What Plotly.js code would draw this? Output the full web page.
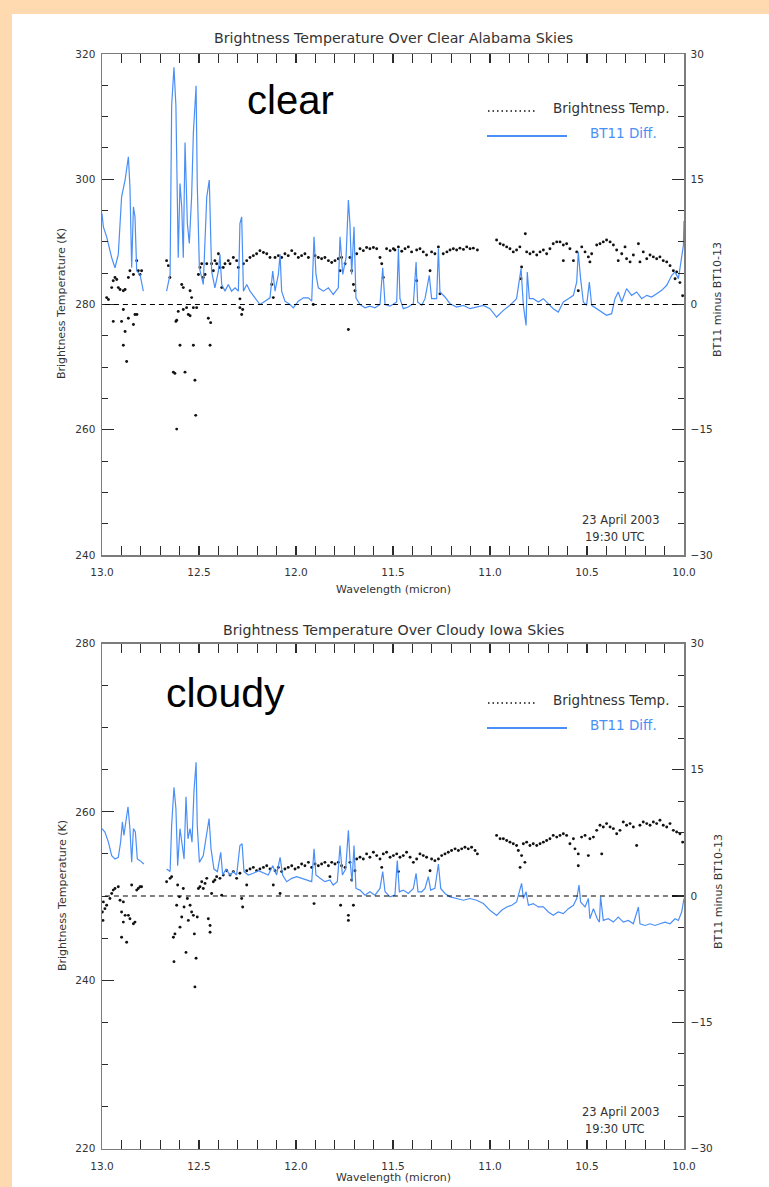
<!DOCTYPE html>
<html>
<head>
<meta charset="utf-8">
<script src="https://cdn.plot.ly/plotly-3.0.1.min.js"></script>
<style>
html,body{margin:0;padding:0;background:#FFDAB0;}
#chart{width:769px;height:1187px;}
</style>
</head>
<body>
<div id="chart"></div>
<script>
// ---------------- DATA ----------------
// Panel 1: clear Alabama skies
const clearBtWl = [
12.976,12.967,12.950,12.942,12.942,12.933,12.924,12.916,12.907,12.899,
12.890,12.890,12.890,12.881,12.881,12.873,12.864,12.864,12.856,12.838,
12.838,12.830,12.821,12.820,12.813,12.804,12.796,12.667,12.658,12.650,
12.632,12.624,12.619,12.615,12.615,12.607,12.598,12.589,12.581,12.581,
12.572,12.564,12.555,12.546,12.546,12.538,12.529,12.529,12.521,12.517,
12.512,12.503,12.495,12.486,12.478,12.469,12.460,12.452,12.443,12.440,
12.435,12.426,12.418,12.409,12.400,12.392,12.383,12.375,12.366,12.349,
12.340,12.323,12.306,12.297,12.289,12.289,12.280,12.275,12.271,12.254,
12.237,12.220,12.203,12.186,12.168,12.151,12.134,12.125,12.117,12.108,
12.091,12.074,12.057,12.040,12.022,12.005,11.988,11.971,11.954,11.936,
11.911,11.902,11.885,11.868,11.851,11.833,11.816,11.799,11.782,11.773,
11.765,11.747,11.730,11.722,11.713,11.704,11.696,11.687,11.670,11.653,
11.636,11.619,11.601,11.584,11.567,11.558,11.550,11.533,11.515,11.498,
11.490,11.472,11.455,11.438,11.421,11.404,11.378,11.378,11.361,11.344,
11.327,11.309,11.301,11.284,11.266,11.258,11.241,11.222,11.206,11.189,
11.172,11.155,11.137,11.120,11.103,11.086,11.065,10.966,10.948,10.931,
10.914,10.897,10.880,10.863,10.846,10.840,10.837,10.818,10.811,10.794,
10.777,10.759,10.742,10.725,10.708,10.691,10.674,10.656,10.639,10.622,
10.622,10.605,10.588,10.570,10.553,10.545,10.527,10.510,10.493,10.485,
10.476,10.450,10.433,10.416,10.399,10.381,10.364,10.347,10.339,10.321,
10.304,10.296,10.278,10.261,10.235,10.227,10.210,10.192,10.175,10.158,
10.141,10.124,10.107,10.089,10.072,10.055,10.046,10.038,10.021,10.007];
const clearBt = [
281.1,280.8,282.7,283.8,277.3,284.3,284.0,282.7,282.4,277.3,
282.2,279.2,273.5,282.4,275.7,270.9,284.3,277.8,285.4,284.8,
276.8,278.4,287.0,278.4,285.4,284.8,285.4,287.0,286.2,284.3,
269.2,269.0,277.3,260.1,277.5,278.9,273.5,283.2,282.7,279.2,
269.2,279.5,278.4,282.2,278.2,281.1,273.5,279.5,267.9,262.3,
279.5,284.8,285.9,286.5,284.3,284.8,286.5,277.8,273.5,277.1,
286.5,285.4,287.0,286.5,288.1,285.9,282.7,285.9,286.5,287.0,
286.5,287.5,287.0,285.9,279.5,280.9,278.4,279.2,286.5,287.0,
287.5,287.8,288.1,288.6,288.3,288.1,287.5,283.2,281.1,287.5,
287.8,287.5,288.1,287.8,288.6,288.1,287.5,287.8,288.1,287.5,
280.0,287.8,287.5,287.3,287.5,287.0,286.7,287.0,287.3,285.4,
287.5,286.5,276.0,287.5,285.4,283.2,282.2,288.1,288.9,288.6,
289.1,288.9,289.1,288.9,287.5,286.5,284.3,288.9,288.6,288.9,
288.7,289.2,288.5,288.9,289.2,288.4,288.7,283.8,288.9,288.4,
287.9,285.4,288.4,288.1,289.2,281.7,288.1,288.4,288.7,288.9,
288.7,289.0,288.8,289.2,288.9,289.0,288.7,290.3,289.7,289.5,
289.2,288.9,288.4,288.7,289.2,284.1,286.0,291.3,288.4,288.1,
288.4,287.9,288.4,288.7,288.1,288.9,289.7,290.0,290.0,289.5,
287.0,289.7,288.9,287.0,288.4,282.2,289.2,288.4,287.6,286.8,
288.1,289.5,289.7,290.0,290.3,290.0,289.5,288.7,287.0,288.1,
289.2,287.3,286.8,287.9,289.7,286.8,288.4,287.3,287.9,287.6,
287.3,287.6,287.0,286.8,286.2,285.4,284.1,285.2,283.5,281.4];
const clearDiffWl = [
13.000,12.993,12.976,12.950,12.933,12.916,12.899,12.881,12.864,12.856,
12.847,12.838,12.830,12.821,12.804,12.787,12.727,12.667,12.649,12.641,
12.629,12.619,12.607,12.598,12.589,12.581,12.572,12.560,12.550,12.538,
12.529,12.515,12.509,12.498,12.478,12.460,12.447,12.435,12.418,12.400,
12.392,12.383,12.366,12.349,12.332,12.314,12.297,12.289,12.280,12.271,
12.254,12.237,12.211,12.186,12.160,12.134,12.120,12.108,12.091,12.082,
12.074,12.057,12.031,12.014,11.988,11.962,11.936,11.919,11.907,11.897,
11.885,11.859,11.833,11.808,11.782,11.773,11.759,11.742,11.730,11.722,
11.713,11.701,11.691,11.670,11.644,11.619,11.593,11.567,11.553,11.541,
11.515,11.481,11.472,11.464,11.447,11.421,11.395,11.381,11.373,11.352,
11.335,11.313,11.301,11.275,11.266,11.258,11.232,11.206,11.172,11.137,
11.103,11.069,11.034,11.000,10.966,10.931,10.897,10.863,10.840,10.828,
10.814,10.808,10.797,10.777,10.751,10.725,10.699,10.674,10.648,10.622,
10.596,10.570,10.553,10.545,10.533,10.519,10.502,10.488,10.476,10.450,
10.424,10.399,10.373,10.356,10.339,10.321,10.296,10.270,10.244,10.218,
10.192,10.167,10.141,10.115,10.089,10.063,10.046,10.029,10.021,10.012,
10.003,10.000];
const clearDiff = [
10.9,9.3,8.1,5.6,4.4,6.0,12.9,14.9,17.7,14.1,
4.4,11.7,10.5,4.0,3.6,1.6,null,1.6,3.6,23.8,
28.4,23.8,5.6,14.5,11.7,5.6,19.4,9.7,7.3,12.9,
20.6,26.2,14.5,4.4,2.4,12.9,14.9,4.0,2.0,4.0,
6.0,2.4,1.6,2.4,1.6,2.0,1.6,9.7,10.5,1.6,
2.4,1.6,0.8,0.0,0.4,0.8,4.0,1.6,3.6,6.0,
1.6,0.4,0.0,-0.4,0.4,0.8,0.8,0.4,8.1,3.6,
2.0,1.6,2.0,1.2,2.0,8.1,3.6,5.6,12.5,9.7,
3.6,9.3,0.8,0.0,-0.4,-0.2,-0.4,0.0,4.4,0.0,
-0.2,0.3,6.7,0.7,-0.5,-0.3,0.1,5.1,0.3,-0.1,
0.7,3.5,0.7,0.7,6.7,1.5,0.9,0.1,-0.3,-0.1,
-0.5,-0.3,-0.1,-0.5,-1.5,-0.7,-0.1,0.7,4.3,-0.1,
-2.5,3.9,0.7,0.7,0.3,0.7,0.1,-0.5,-0.9,0.3,
0.7,1.1,2.7,6.3,3.1,0.3,-0.1,2.7,-0.1,-0.5,
-0.9,-1.3,-1.1,0.7,1.5,0.3,1.9,1.1,1.5,0.7,
1.1,0.9,1.3,1.7,2.3,3.5,3.9,3.1,4.3,5.9,
7.1,10.0];

// Panel 2: cloudy Iowa skies
const cloudyBtWl = [
12.995,12.998,12.993,12.985,12.976,12.959,12.950,12.942,12.933,12.916,
12.907,12.899,12.899,12.890,12.890,12.881,12.873,12.864,12.856,12.847,
12.838,12.830,12.821,12.813,12.804,12.796,12.667,12.649,12.641,12.632,
12.629,12.624,12.615,12.610,12.601,12.598,12.589,12.581,12.577,12.567,
12.560,12.555,12.546,12.538,12.529,12.524,12.521,12.515,12.509,12.503,
12.495,12.486,12.478,12.469,12.460,12.452,12.443,12.443,12.435,12.426,
12.418,12.409,12.392,12.383,12.375,12.357,12.340,12.323,12.306,12.289,
12.280,12.275,12.254,12.254,12.237,12.220,12.203,12.186,12.168,12.151,
12.134,12.117,12.108,12.091,12.082,12.074,12.057,12.040,12.022,12.005,
11.988,11.971,11.954,11.936,11.919,11.907,11.902,11.885,11.868,11.851,
11.833,11.825,11.816,11.799,11.782,11.770,11.765,11.747,11.730,11.730,
11.722,11.713,11.704,11.696,11.687,11.670,11.653,11.636,11.619,11.601,
11.584,11.567,11.558,11.550,11.533,11.515,11.498,11.481,11.472,11.464,
11.447,11.430,11.412,11.395,11.378,11.361,11.344,11.327,11.309,11.301,
11.284,11.266,11.249,11.232,11.215,11.198,11.180,11.163,11.146,11.129,
11.112,11.095,11.077,11.065,10.966,10.948,10.931,10.914,10.897,10.880,
10.863,10.854,10.845,10.837,10.828,10.820,10.811,10.794,10.777,10.759,
10.742,10.725,10.708,10.691,10.674,10.656,10.639,10.622,10.605,10.588,
10.570,10.562,10.545,10.545,10.528,10.510,10.493,10.485,10.467,10.450,
10.433,10.424,10.416,10.399,10.381,10.364,10.347,10.330,10.313,10.296,
10.278,10.261,10.244,10.227,10.210,10.192,10.175,10.158,10.141,10.124,
10.107,10.089,10.072,10.055,10.038,10.021,10.007];
const cloudyBt = [
247.1,248.1,249.3,248.5,248.9,249.7,250.3,250.7,250.9,251.1,
249.5,248.1,245.1,249.3,246.9,247.7,244.5,247.7,247.3,251.3,
246.7,246.9,250.7,250.9,251.1,251.1,251.7,252.1,252.3,245.1,
242.2,245.5,248.9,251.3,249.9,246.3,247.5,250.9,248.7,243.3,
249.7,247.1,248.9,248.1,247.7,245.5,239.2,242.6,247.5,250.9,
251.1,251.7,250.9,251.5,252.1,247.3,246.5,245.7,250.3,251.7,
251.9,252.3,252.1,250.1,252.5,253.0,252.5,252.9,252.1,252.7,
249.7,248.7,253.0,251.3,253.2,253.4,253.0,253.2,253.4,253.6,
253.2,251.3,253.0,253.4,250.3,252.9,253.2,253.4,253.6,253.2,
253.4,253.8,253.6,254.0,253.4,249.1,253.8,253.6,253.8,254.0,
253.6,252.3,254.0,253.8,254.0,248.9,253.6,253.4,247.7,247.1,
254.0,251.9,248.9,253.0,254.4,254.6,254.4,255.0,254.6,255.2,
254.8,254.4,253.4,255.0,255.2,254.6,254.8,255.0,252.9,254.6,
254.8,255.2,254.6,254.0,254.4,255.0,254.8,254.6,253.0,254.4,
254.2,254.4,254.8,255.0,255.2,255.4,255.6,255.4,255.6,255.8,
255.6,255.8,255.4,255.0,257.2,256.8,256.8,256.6,256.4,256.2,
256.0,255.4,253.4,254.8,256.2,254.0,256.4,256.0,256.2,256.0,
256.2,256.4,256.6,256.8,257.2,257.0,257.2,257.4,257.2,256.2,
256.8,255.6,255.0,253.6,257.0,257.2,254.8,256.8,257.0,257.8,
258.4,255.0,258.2,258.6,258.2,258.0,257.4,257.8,258.8,258.4,
258.6,258.2,256.0,258.4,258.8,258.6,258.4,258.8,258.6,259.0,
258.4,258.2,258.6,257.8,257.6,257.4,256.4];
const cloudyDiffWl = [
13.000,12.985,12.967,12.950,12.933,12.916,12.904,12.895,12.887,12.876,
12.866,12.856,12.847,12.838,12.828,12.818,12.804,12.784,12.727,12.667,
12.649,12.641,12.629,12.619,12.610,12.598,12.588,12.577,12.567,12.557,
12.546,12.536,12.526,12.515,12.509,12.498,12.478,12.460,12.448,12.438,
12.423,12.405,12.388,12.378,12.361,12.340,12.323,12.306,12.289,12.278,
12.268,12.246,12.220,12.194,12.168,12.143,12.120,12.100,12.082,12.069,
12.048,12.022,11.997,11.971,11.945,11.919,11.907,11.897,11.876,11.851,
11.825,11.808,11.787,11.773,11.761,11.744,11.730,11.722,11.711,11.701,
11.691,11.670,11.644,11.619,11.593,11.567,11.553,11.541,11.515,11.490,
11.478,11.467,11.447,11.421,11.395,11.381,11.371,11.352,11.335,11.318,
11.306,11.284,11.266,11.254,11.232,11.206,11.172,11.137,11.103,11.069,
11.034,11.000,10.966,10.940,10.914,10.888,10.863,10.837,10.828,10.814,
10.802,10.777,10.751,10.725,10.699,10.674,10.648,10.622,10.596,10.570,
10.553,10.541,10.533,10.510,10.493,10.485,10.467,10.447,10.436,10.430,
10.416,10.390,10.364,10.339,10.313,10.287,10.261,10.235,10.227,10.201,
10.175,10.150,10.124,10.098,10.072,10.046,10.029,10.012,10.000];
const cloudyDiff = [
8.0,7.6,6.4,4.8,4.4,4.6,6.4,8.8,7.2,9.2,
10.6,8.0,4.0,8.0,7.6,4.4,4.2,3.8,null,3.2,
2.9,8.4,12.9,10.4,3.6,8.0,6.4,4.4,11.8,6.8,
8.0,6.4,12.4,15.9,8.4,4.0,4.8,7.2,9.2,5.6,
3.2,2.9,5.2,2.5,3.2,2.5,2.9,2.5,6.0,6.2,
2.9,2.5,2.7,3.0,2.7,2.5,3.6,2.5,4.6,2.5,
1.7,2.1,2.3,2.1,1.9,1.7,5.6,2.5,2.1,1.7,
1.9,1.3,1.7,6.0,2.5,3.2,7.8,4.4,1.7,6.0,
0.9,0.7,0.1,0.5,0.1,0.9,2.9,0.5,-0.1,0.1,
4.2,0.5,0.7,0.3,0.9,2.7,0.5,0.5,0.9,2.3,
0.7,0.9,3.8,0.9,0.3,-0.1,-0.3,-0.5,-0.3,-0.5,
-0.9,-1.7,-2.3,-1.7,-1.3,-1.1,-0.7,1.5,-0.3,0.5,
-1.1,-0.9,-1.3,-1.3,-1.9,-2.3,-1.9,-2.1,-1.5,-1.1,
-0.3,1.3,-0.7,-1.3,-0.3,-2.7,-1.5,-2.7,-3.1,-0.1,
-2.9,-2.7,-3.1,-2.5,-3.1,-2.9,-3.3,-1.3,-3.3,-3.5,
-3.3,-3.5,-3.3,-3.1,-3.3,-2.7,-2.9,-1.9,-0.3];

// axis settings / labels
const wlRange = [13.0, 10.0];
const clearTempRange = [240, 320];
const cloudyTempRange = [220, 280];
const diffRange = [-30, 30];
const clearRef = 280;
const cloudyRef = 250;
const titles = ['Brightness Temperature Over Clear Alabama Skies', 'Brightness Temperature Over Cloudy Iowa Skies'];
const panelTags = ['clear', 'cloudy'];
const legendNames = ['Brightness Temp.', 'BT11 Diff.'];
const dateLines = ['23 April 2003', '19:30 UTC'];

// ---------------- LAYOUT ----------------
const W = 769, H = 1187;
const px = v => v / W;
const py = v => 1 - v / H;
const FONT = 'DejaVu Sans, Verdana, sans-serif';
const AXC = '#7c7c7c', TKC = '#2b2b2b', TXC = '#333333';
const BLUE = '#4a8ff7';

function xAxis(anchor) {
  return {
    domain: [px(102), px(684)], anchor: anchor, range: wlRange,
    tick0: 10, dtick: 0.5, tickformat: '.1f',
    ticks: 'inside', ticklen: 9, tickwidth: 1.3, tickcolor: TKC,
    showline: true, linecolor: AXC, linewidth: 1.5, mirror: 'allticks',
    showgrid: false, zeroline: false, ticklabelstandoff: 7,
    tickfont: {family: FONT, size: 10.5, color: TXC},
    minor: {tick0: 10, dtick: 0.1, ticks: 'inside', ticklen: 5, tickwidth: 1, tickcolor: TKC, showgrid: false}
  };
}
function yLeft(anchor, dom, range) {
  return {
    domain: dom, anchor: anchor, range: range, tick0: 0, dtick: 20,
    ticks: 'inside', ticklen: 12, tickwidth: 1.3, tickcolor: TKC,
    showline: true, linecolor: AXC, linewidth: 1.5, mirror: false,
    showgrid: false, zeroline: false, ticklabelstandoff: 3,
    tickfont: {family: FONT, size: 10.5, color: TXC},
    minor: {tick0: 0, dtick: 5, ticks: 'inside', ticklen: 6, tickwidth: 1, tickcolor: TKC, showgrid: false}
  };
}
function yRight(anchor, over) {
  return {
    overlaying: over, side: 'right', anchor: anchor, range: diffRange, tick0: 0, dtick: 15,
    ticks: 'inside', ticklen: 12, tickwidth: 1.3, tickcolor: TKC,
    showline: true, linecolor: AXC, linewidth: 1.5,
    showgrid: false, zeroline: false, ticklabelstandoff: 3,
    tickfont: {family: FONT, size: 10.5, color: TXC},
    minor: {tick0: 0, dtick: 3.75, ticks: 'inside', ticklen: 6, tickwidth: 1, tickcolor: TKC, showgrid: false}
  };
}

const traces = [
  {x: clearBtWl, y: clearBt, xaxis: 'x', yaxis: 'y', type: 'scatter', mode: 'markers',
   marker: {size: 2.9, color: '#111'}, hoverinfo: 'skip'},
  {x: clearDiffWl, y: clearDiff, xaxis: 'x', yaxis: 'y2', type: 'scatter', mode: 'lines',
   line: {color: BLUE, width: 1.2}, connectgaps: false, hoverinfo: 'skip'},
  {x: cloudyBtWl, y: cloudyBt, xaxis: 'x2', yaxis: 'y3', type: 'scatter', mode: 'markers',
   marker: {size: 2.9, color: '#111'}, hoverinfo: 'skip'},
  {x: cloudyDiffWl, y: cloudyDiff, xaxis: 'x2', yaxis: 'y4', type: 'scatter', mode: 'lines',
   line: {color: BLUE, width: 1.2}, connectgaps: false, hoverinfo: 'skip'}
];

const topY = [555, 54], botY = [1148.5, 643.5];

function ann(text, x, y, opts) {
  return Object.assign({text: text, x: px(x), y: py(y), xref: 'paper', yref: 'paper',
    showarrow: false, xanchor: 'center', yanchor: 'middle',
    font: {family: FONT, size: 11, color: TXC}}, opts || {});
}

const panelOffsets = [0, 592];
const xTitleY = [590, 1177];
const annotations = [];
const shapes = [
  {type: 'rect', xref: 'paper', yref: 'paper', x0: px(12), x1: 1, y0: 0, y1: py(14),
   fillcolor: '#ffffff', line: {width: 0}, layer: 'below'}
];
[0, 1].forEach(i => {
  const o = panelOffsets[i];
  annotations.push(ann(titles[i], 393, 38 + o, {font: {family: FONT, size: 14.2, color: TXC}}));
  annotations.push(ann('Wavelength (micron)', 394, xTitleY[i], {font: {family: FONT, size: 11, color: TXC}}));
  annotations.push(ann('Brightness Temperature (K)', 62, 304 + o, {textangle: -90}));
  annotations.push(ann('BT11 minus BT10-13', 718, 300 + o, {textangle: -90}));
  annotations.push(ann(legendNames[0], 551, 108 + o, {xanchor: 'left', font: {family: FONT, size: 13.5, color: TXC}}));
  annotations.push(ann(legendNames[1], 588, 133 + o, {xanchor: 'left', font: {family: FONT, size: 13.5, color: BLUE}}));
  annotations.push(ann(dateLines[0], 580, 520 + o, {xanchor: 'left', font: {family: FONT, size: 11.5, color: TXC}}));
  annotations.push(ann(dateLines[1], 583, 537 + o, {xanchor: 'left', font: {family: FONT, size: 11.5, color: TXC}}));
  shapes.push({type: 'line', xref: 'paper', yref: 'paper', x0: px(488), x1: px(535), y0: py(111 + o), y1: py(111 + o),
    line: {color: '#111', width: 1.3, dash: '1.5px,3px'}});
  shapes.push({type: 'line', xref: 'paper', yref: 'paper', x0: px(487), x1: px(567), y0: py(136 + o), y1: py(136 + o),
    line: {color: BLUE, width: 2}});
});
annotations.push(ann(panelTags[0], 290, 100, {font: {family: 'Liberation Sans, Arial, sans-serif', size: 40, color: '#000'}}));
annotations.push(ann(panelTags[1], 225, 693, {font: {family: 'Liberation Sans, Arial, sans-serif', size: 41, color: '#000'}}));

shapes.push({type: 'line', xref: 'x', yref: 'y', x0: 12.985, x1: 10.03, y0: clearRef, y1: clearRef,
  line: {color: '#000', width: 1.2, dash: '5px,4px'}});
shapes.push({type: 'line', xref: 'x2', yref: 'y3', x0: 12.985, x1: 10.03, y0: cloudyRef, y1: cloudyRef,
  line: {color: '#000', width: 1.2, dash: '5px,4px'}});

const layout = {
  width: W, height: H, margin: {l: 0, r: 0, t: 0, b: 0, pad: 0},
  paper_bgcolor: '#FFDAB0', plot_bgcolor: 'rgba(0,0,0,0)',
  showlegend: false,
  xaxis: xAxis('y'),
  yaxis: yLeft('x', [py(topY[0]), py(topY[1])], clearTempRange),
  yaxis2: yRight('x', 'y'),
  xaxis2: xAxis('y3'),
  yaxis3: yLeft('x2', [py(botY[0]), py(botY[1])], cloudyTempRange),
  yaxis4: yRight('x2', 'y3'),
  annotations: annotations,
  shapes: shapes
};

Plotly.newPlot('chart', traces, layout, {staticPlot: true, displayModeBar: false});
</script>
</body>
</html>
